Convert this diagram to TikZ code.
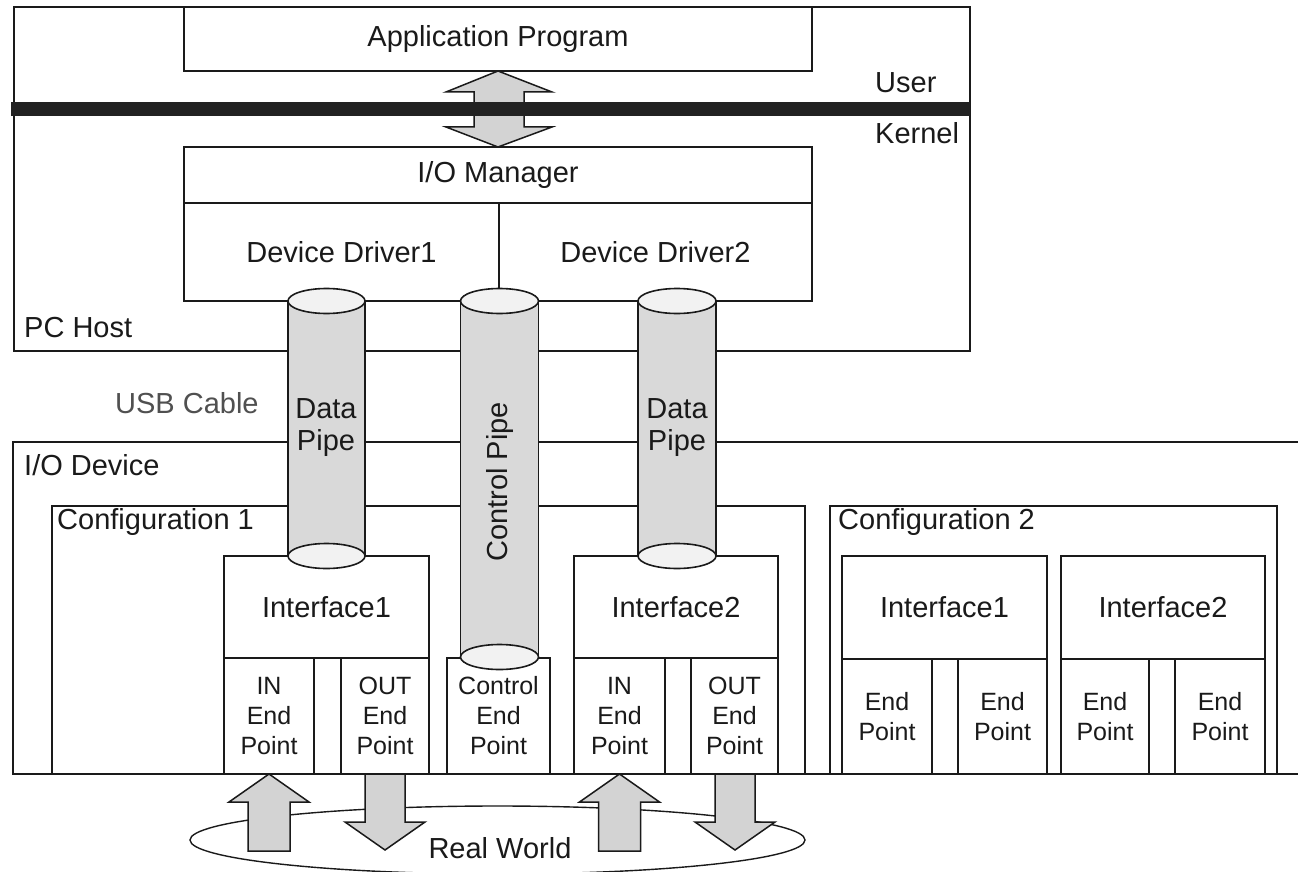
\documentclass[tikz,border=0pt]{standalone}
\usepackage{fontspec}
\setmainfont{Liberation Sans}
\usetikzlibrary{shapes.geometric}
\definecolor{ink}{HTML}{1A1A1A}
\definecolor{pipegray}{HTML}{D9D9D9}
\definecolor{pipetop}{HTML}{F2F2F2}
\definecolor{arrowgray}{HTML}{D3D3D3}
\definecolor{bargray}{HTML}{222222}
\definecolor{usbgray}{HTML}{505050}
\newcommand\mainfs{\fontsize{29}{32}\selectfont}
\newcommand\epfs{\fontsize{25}{30}\selectfont}
% \rbox[opts]{name}{x1}{y1}{x2}{y2}{text}
\newcommand\rbox[7][]{\node[box,#1,anchor=north west,minimum width={(#5-#3)*1pt},minimum height={(#6-#4)*1pt}] (#2) at (#3,#4) {#7};}
% \pipe{name}{cx}{rx}{ytop}{ybot}
\newcommand\pipe[5]{%
  \fill[pipegray] ({#2-#3},#4) rectangle ({#2+#3},#5);
  \draw[ln] ({#2-#3},#4) -- ({#2-#3},#5) ({#2+#3},#4) -- ({#2+#3},#5);
  \node[pipecap] (#1bot) at (#2,#5) [minimum width={2*#3*1pt}] {};
  \node[pipecap] (#1top) at (#2,#4) [minimum width={2*#3*1pt}] {};
  \coordinate (#1) at (#2,{(#4+#5)/2});}
\begin{document}
\begin{tikzpicture}[x=1pt,y=-1pt,
  ln/.style={line width=1.6pt, draw=ink},
  box/.style={ln, inner sep=0pt, outer sep=0pt, align=center, font=\mainfs, text=ink},
  epbox/.style={box, font=\epfs},
  lbl/.style={inner sep=0pt, anchor=west, font=\mainfs, text=ink},
  pipecap/.style={ellipse, ln, fill=pipetop, inner sep=0pt, outer sep=0pt, minimum height=25pt},
  fat/.style={ln, line width=1.5pt, fill=arrowgray, line join=miter},
  fatup/.pic={\draw[fat] (0,0) -- (40,28) -- (21,28) -- (21,77) -- (-21,77) -- (-21,28) -- (-40,28) -- cycle;},
  fatdown/.pic={\draw[fat] (-20,0) -- (20,0) -- (20,48) -- (40,48) -- (0,76) -- (-40,48) -- (-20,48) -- cycle;}
]
\useasboundingbox (0,0) rectangle (1298,872);
\fill[white] (0,0) rectangle (1298,872);

% ---------- PC host ----------
\rbox{pchost}{14}{7}{970}{351}{}
\rbox{app}{184}{7}{812}{71}{Application Program}
\rbox{iomgr}{184}{147}{812}{203}{I/O Manager}
\rbox{dd1}{184}{203}{499}{301}{Device Driver1}
\rbox{dd2}{499}{203}{812}{301}{Device Driver2}
\node[lbl] (pclbl) at (24,328) {PC Host};
\node[lbl] (user) at (875,83) {User};
\node[lbl] (kernel) at (875,133) {Kernel};

% double arrow between application and I/O manager
\draw[fat] (app.south) -- (552,92) -- (524,92) -- (524,127) -- (552,127) -- (iomgr.north)
  -- (446,127) -- (474,127) -- (474,92) -- (446,92) -- cycle;
% user / kernel bar
\fill[bargray] (11,102) rectangle (970,116);

% ---------- I/O device ----------
\coordinate (devTR) at (1298,442);
\coordinate (devBR) at (1298,774);
\draw[ln] (devTR) -- (13,442) -- (13,774) -- (devBR);
\node[lbl] (devlbl) at (24,465) {I/O Device};
\node[lbl, text=usbgray] (usb) at (115,403) {USB Cable};

% configuration 1
\rbox{cfg1}{52}{506}{805}{774}{}
\node[lbl] (cfg1lbl) at (57,522) {Configuration 1};
\rbox{if1}{224}{556}{429}{658}{Interface1}
\rbox[epbox]{in1}{224}{658}{314}{774}{IN\\End\\Point}
\rbox{gap1}{314}{658}{341}{774}{}
\rbox[epbox]{out1}{341}{658}{429}{774}{OUT\\End\\Point}
\rbox[epbox]{ctrlep}{447}{658}{550}{774}{Control\\End\\Point}
\rbox{if2}{574}{556}{778}{658}{Interface2}
\rbox[epbox]{in2}{574}{658}{665}{774}{IN\\End\\Point}
\rbox{gap2}{665}{658}{691}{774}{}
\rbox[epbox]{out2}{691}{658}{778}{774}{OUT\\End\\Point}

% configuration 2
\rbox{cfg2}{830}{506}{1277}{774}{}
\node[lbl] (cfg2lbl) at (838,522) {Configuration 2};
\rbox{cif1}{842}{556}{1047}{659}{Interface1}
\rbox[epbox]{cep1}{842}{659}{932}{774}{End\\Point}
\rbox{cgap1}{932}{659}{958}{774}{}
\rbox[epbox]{cep2}{958}{659}{1047}{774}{End\\Point}
\rbox{cif2}{1061}{556}{1265}{659}{Interface2}
\rbox[epbox]{cep3}{1061}{659}{1149}{774}{End\\Point}
\rbox{cgap2}{1149}{659}{1175}{774}{}
\rbox[epbox]{cep4}{1175}{659}{1265}{774}{End\\Point}

% ---------- pipes ----------
\pipe{dpipe1}{326.5}{38.5}{301}{556}
\pipe{cpipe}{499.5}{39}{301}{657}
\pipe{dpipe2}{677}{39}{301}{556}
\node[align=center, font=\mainfs, text=ink, inner sep=0pt] (dp1txt) at (326,428) {Data\\Pipe};
\node[align=center, font=\mainfs, text=ink, inner sep=0pt] (dp2txt) at (677,428) {Data\\Pipe};
\node[font=\mainfs, text=ink, inner sep=0pt, rotate=90] (cptxt) at (499.5,482) {Control Pipe};

% ---------- real world ----------
\node[ellipse, draw=ink, line width=1.4pt, minimum width=615pt, minimum height=68pt, inner sep=0pt] (world) at (497.5,840) {};
\node[font=\mainfs, text=ink, inner sep=0pt] (worldtxt) at (500,848) {Real World};
\pic at (in1.south) {fatup};
\pic at (out1.south) {fatdown};
\pic at (in2.south) {fatup};
\pic at (735,774) {fatdown};
\end{tikzpicture}
\end{document}
